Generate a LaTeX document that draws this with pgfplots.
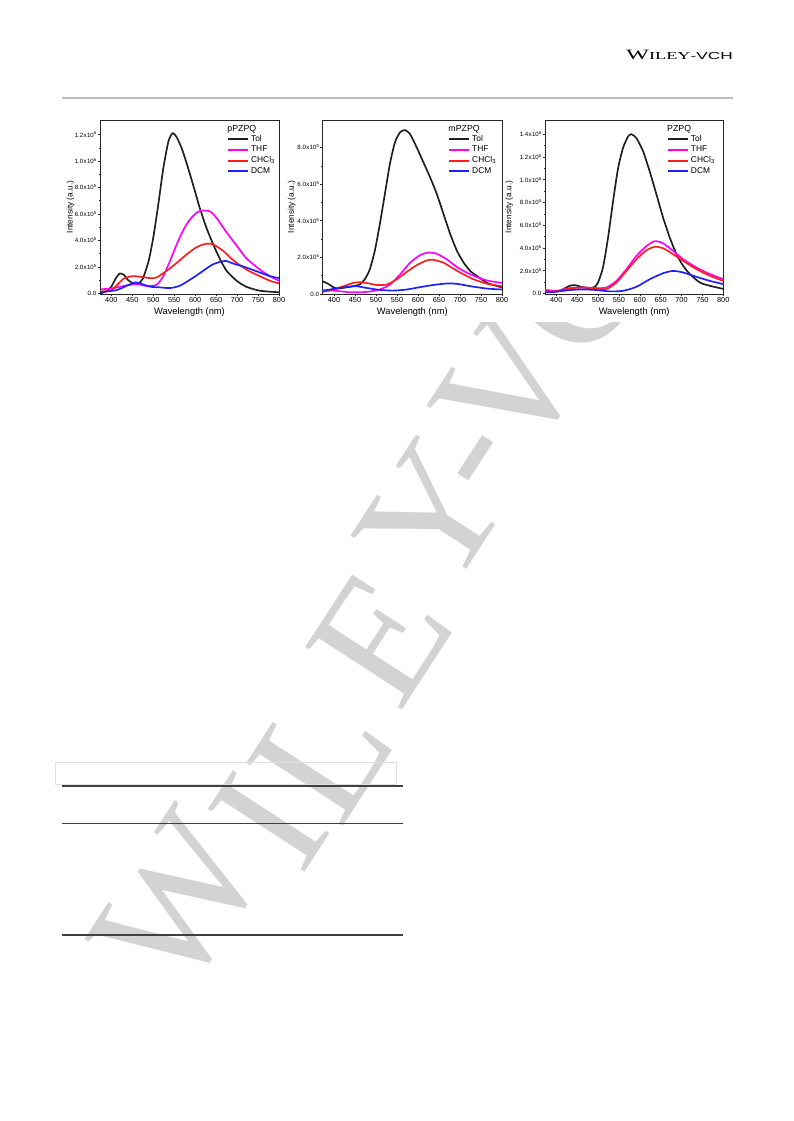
\documentclass[border=0pt]{standalone}
\usepackage{fontspec}
\setmainfont{Liberation Sans}
\newfontfamily\seriffont{Liberation Serif}
\usepackage{graphicx}
\usepackage{pgfplots}
\pgfplotsset{compat=1.18}

\definecolor{cTol}{RGB}{30,30,30}
\definecolor{cTHF}{RGB}{255,0,255}
\definecolor{cCHCl}{RGB}{255,30,30}
\definecolor{cDCM}{RGB}{30,30,255}
\definecolor{wm}{RGB}{211,211,211}
\definecolor{rule}{RGB}{190,190,190}

\newcommand{\tl}[2]{#1{\kern0.3pt}x{\kern0.2pt}10\raisebox{1.6pt}{\fontsize{3.2}{3.5}\selectfont #2}}

\pgfplotsset{
 panel/.style={
  scale only axis, width=134.25pt, height=130.5pt,
  xmin=373, xmax=800, ymin=-0.005,
  xtick={400,450,...,800}, minor x tick num=1, minor y tick num=1,
  tick align=outside, xtick pos=left, ytick pos=left,
  major tick length=1.8pt, minor tick length=1pt,
  /pgf/number format/assume math mode=true,
  xticklabel style={inner sep=0.6pt, font=\fontsize{5.5}{6}\selectfont},
  yticklabel style={inner sep=0.8pt, font=\fontsize{4.6}{5}\selectfont},
  xlabel={Wavelength (nm)}, ylabel={Intensity (a.u.)},
  xlabel style={font=\fontsize{7}{8}\selectfont, inner sep=0pt, at={(axis description cs:0.5,-0.104)}, anchor=center},
  ylabel style={font=\fontsize{6.2}{7}\selectfont, inner sep=0pt, anchor=center},
  axis line style={black!85, line width=0.5pt},
  every tick/.style={black!85, line width=0.4pt},
  legend style={draw=none, fill=none, anchor=north west, font=\fontsize{6.3}{7}\selectfont, row sep=-0.5pt, inner sep=0pt, nodes={inner sep=1.3pt}},
  legend cell align=left,
  legend image code/.code={\draw[#1, line width=1.5pt] (0pt,0pt) -- (15pt,0pt);},
  every axis plot/.append style={line width=1.25pt, no markers, smooth, tension=0.4},
 }
}

\begin{document}
\begin{tikzpicture}
\path[use as bounding box] (0,0) rectangle (594.75pt,-840.75pt);
\begin{scope}[x=0.75pt,y=-0.75pt]
 % watermark (hidden behind the figure area)
 \begin{scope}
  \clip (0,322) rectangle (793,1121);
  \begin{scope}[every node/.style={text=wm, rotate=57, inner sep=0pt, anchor=center, font=\seriffont\fontsize{132}{132}\selectfont}]
   \node at (180,902) {W};
   \node at (269,822) {I};
   \node at (321,754) {L};
   \node at (380,638) {E};
   \node at (433,516) {Y};
   \node at (490,468) {-};
   \node at (510,387) {V};
   \node at (574,288) {C};
  \end{scope}
 \end{scope}
 % header
 \node[anchor=base east, inner sep=0pt] at (733,59.3) {\resizebox{80pt}{7pt}{{\seriffont\fontsize{12}{12}\selectfont W\fontsize{9}{9}\selectfont ILEY}{\fontsize{8.5}{9}\selectfont -VCH}}};
 \draw[rule, line width=1.5pt] (62,98.3) -- (733,98.3);
 % table
 \draw[black!12, line width=0.6pt] (55,762) rectangle (396,784);
 \draw[black!75, line width=0.9pt] (62,786) -- (403,786);
 \draw[black!75, line width=0.9pt] (62,823.4) -- (403,823.4);
 \draw[black!75, line width=0.9pt] (62,935) -- (403,935);
\end{scope}

% ---------------- panel 1: pPZPQ
\begin{axis}[panel, at={(75pt,-220.5pt)}, anchor=south west,
  ymax=1.31,
  ytick={0,0.2,0.4,0.6,0.8,1.0,1.2},
  yticklabels={0.0,\tl{2.0}{5},\tl{4.0}{5},\tl{6.0}{5},\tl{8.0}{5},\tl{1.0}{6},\tl{1.2}{6}},
  ylabel style={at={(axis description cs:-0.165,0.5)}},
  legend style={at={(rel axis cs:0.71,0.925)}}]
\addplot[cTol] coordinates {(375,0.0) (390,0.02) (400,0.05) (410,0.11) (420,0.15) (430,0.14) (440,0.10) (450,0.08) (463,0.07) (475,0.11) (489,0.245) (500,0.42) (512,0.67) (524,0.945) (536,1.145) (546,1.21) (556,1.18) (568,1.095) (580,0.98) (596,0.81) (611,0.645) (627,0.495) (643,0.37) (659,0.26) (675,0.17) (699,0.095) (722,0.05) (754,0.02) (800,0.008)};
\addlegendentry{Tol}
\addplot[cTHF] coordinates {(375,0.03) (405,0.04) (437,0.06) (461,0.07) (485,0.055) (508,0.065) (524,0.13) (540,0.245) (556,0.37) (572,0.48) (588,0.56) (604,0.61) (615,0.625) (635,0.62) (651,0.57) (675,0.46) (699,0.36) (722,0.265) (754,0.18) (778,0.13) (800,0.095)};
\addlegendentry{THF}
\addplot[cCHCl] coordinates {(375,0.015) (398,0.02) (413,0.06) (429,0.11) (449,0.13) (469,0.125) (493,0.115) (508,0.12) (532,0.17) (556,0.23) (580,0.295) (604,0.35) (627,0.375) (643,0.37) (667,0.32) (691,0.25) (722,0.18) (754,0.13) (778,0.095) (800,0.075)};
\addlegendentry{CHCl\textsubscript{3}}
\addplot[cDCM] coordinates {(375,0.008) (413,0.025) (437,0.058) (457,0.083) (473,0.07) (493,0.05) (516,0.045) (540,0.04) (564,0.058) (596,0.12) (619,0.17) (643,0.22) (671,0.245) (691,0.225) (722,0.195) (754,0.158) (778,0.13) (800,0.115)};
\addlegendentry{DCM}
\node[anchor=west, inner sep=0pt, font=\fontsize{6.6}{7}\selectfont] at (rel axis cs:0.71,0.948) {pPZPQ};
\end{axis}

% ---------------- panel 2: mPZPQ
\begin{axis}[panel, at={(242pt,-220.5pt)}, anchor=south west, width=134.5pt,
  ymax=9.5,
  ytick={0,2,4,6,8},
  yticklabels={0.0,\tl{2.0}{5},\tl{4.0}{5},\tl{6.0}{5},\tl{8.0}{5}},
  ylabel style={at={(axis description cs:-0.172,0.5)}},
  legend style={at={(rel axis cs:0.70,0.925)}}]
\addplot[cTol] coordinates {(373,0.69) (386,0.55) (398,0.37) (406,0.29) (422,0.33) (446,0.42) (461,0.51) (473,0.79) (485,1.33) (497,2.34) (509,3.8) (521,5.44) (533,7.09) (545,8.27) (557,8.82) (569,8.95) (581,8.73) (597,8.0) (613,7.18) (629,6.36) (645,5.44) (661,4.35) (677,3.25) (693,2.34) (709,1.7) (725,1.24) (741,0.97) (765,0.6) (800,0.35)};
\addlegendentry{Tol}
\addplot[cTHF] coordinates {(373,0.15) (398,0.18) (438,0.09) (477,0.11) (509,0.24) (533,0.51) (557,1.06) (581,1.7) (605,2.12) (625,2.26) (645,2.19) (669,1.88) (693,1.46) (717,1.15) (741,0.91) (765,0.73) (800,0.6)};
\addlegendentry{THF}
\addplot[cCHCl] coordinates {(373,0.11) (398,0.24) (422,0.42) (446,0.6) (461,0.64) (477,0.6) (501,0.49) (525,0.51) (549,0.79) (573,1.2) (597,1.57) (621,1.83) (637,1.86) (661,1.7) (685,1.37) (709,1.06) (733,0.79) (765,0.55) (800,0.42)};
\addlegendentry{CHCl\textsubscript{3}}
\addplot[cDCM] coordinates {(373,0.18) (390,0.24) (414,0.33) (438,0.40) (454,0.42) (477,0.33) (509,0.22) (541,0.18) (573,0.24) (605,0.37) (637,0.49) (669,0.57) (693,0.55) (725,0.42) (765,0.29) (800,0.24)};
\addlegendentry{DCM}
\node[anchor=west, inner sep=0pt, font=\fontsize{6.6}{7}\selectfont] at (rel axis cs:0.70,0.948) {mPZPQ};
\end{axis}

% ---------------- panel 3: PZPQ
\begin{axis}[panel, at={(408.75pt,-220.5pt)}, anchor=south west, width=133.7pt,
  ymax=1.525,
  ytick={0,0.2,0.4,0.6,0.8,1.0,1.2,1.4},
  yticklabels={0.0,\tl{2.0}{5},\tl{4.0}{5},\tl{6.0}{5},\tl{8.0}{5},\tl{1.0}{6},\tl{1.2}{6},\tl{1.4}{6}},
  ylabel style={at={(axis description cs:-0.2,0.5)}},
  legend style={at={(rel axis cs:0.684,0.925)}}]
\addplot[cTol] coordinates {(373,0.023) (392,0.015) (408,0.023) (420,0.044) (432,0.067) (444,0.073) (460,0.058) (480,0.047) (492,0.058) (500,0.096) (512,0.23) (524,0.49) (536,0.81) (548,1.10) (560,1.28) (572,1.38) (580,1.40) (592,1.365) (608,1.25) (624,1.07) (640,0.87) (656,0.665) (672,0.49) (688,0.344) (704,0.242) (720,0.17) (744,0.096) (768,0.067) (800,0.04)};
\addlegendentry{Tol}
\addplot[cTHF] coordinates {(373,0.032) (400,0.023) (432,0.047) (464,0.052) (496,0.047) (520,0.052) (544,0.11) (568,0.213) (592,0.33) (616,0.417) (636,0.46) (656,0.44) (680,0.373) (704,0.30) (736,0.227) (768,0.17) (800,0.125)};
\addlegendentry{THF}
\addplot[cCHCl] coordinates {(373,0.018) (400,0.018) (432,0.044) (464,0.052) (496,0.044) (520,0.038) (544,0.096) (568,0.198) (592,0.30) (616,0.38) (636,0.41) (656,0.397) (680,0.344) (704,0.286) (736,0.213) (768,0.155) (800,0.11)};
\addlegendentry{CHCl\textsubscript{3}}
\addplot[cDCM] coordinates {(373,0.009) (400,0.015) (432,0.03) (464,0.035) (496,0.03) (528,0.018) (560,0.023) (592,0.058) (624,0.125) (656,0.178) (680,0.198) (704,0.184) (736,0.146) (768,0.11) (800,0.082)};
\addlegendentry{DCM}
\node[anchor=west, inner sep=0pt, font=\fontsize{6.6}{7}\selectfont] at (rel axis cs:0.684,0.948) {PZPQ};
\end{axis}
\end{tikzpicture}
\end{document}
